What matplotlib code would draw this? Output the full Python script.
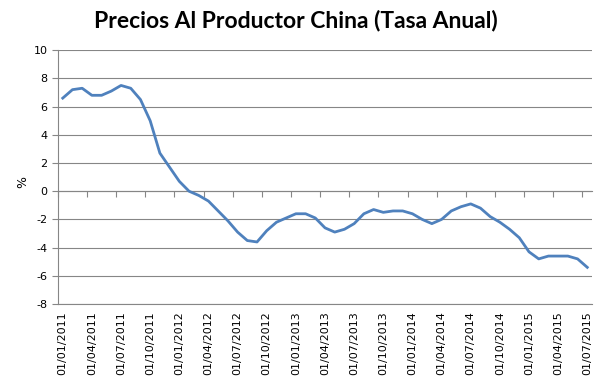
import numpy as np
import matplotlib.pyplot as plt
from matplotlib.ticker import FixedLocator

plt.rcParams['axes.unicode_minus'] = False

# Precios al productor China, tasa anual (%), mensual 01/2011 - 07/2015
values = [
    6.6, 7.2, 7.3, 6.8, 6.8, 7.1, 7.5, 7.3, 6.5, 5.0, 2.7, 1.7,
    0.7, 0.0, -0.3, -0.7, -1.4, -2.1, -2.9, -3.5, -3.6, -2.8, -2.2, -1.9,
    -1.6, -1.6, -1.9, -2.6, -2.9, -2.7, -2.3, -1.6, -1.3, -1.5, -1.4, -1.4,
    -1.6, -2.0, -2.3, -2.0, -1.4, -1.1, -0.9, -1.2, -1.8, -2.2, -2.7, -3.3,
    -4.3, -4.8, -4.6, -4.6, -4.6, -4.8, -5.4,
]
dates = [f"01/{m:02d}/{y}" for y in range(2011, 2016) for m in range(1, 13)][:len(values)]
tick_step = 3

grey = '#868686'

fig = plt.figure(figsize=(6.03, 3.86), dpi=100)
ax = fig.add_axes([0.096, 0.2124, 0.886, 0.6576])

x = np.arange(len(values))
ax.plot(x, values, color='#4F81BD', linewidth=2.0, solid_joinstyle='round')

ax.set_xlim(-0.5, len(values) - 0.5)
ax.set_ylim(-8, 10)
ax.set_yticks(np.arange(-8, 11, 2))
ax.yaxis.grid(True, color=grey, linewidth=0.8)
ax.set_axisbelow(True)

for side in ['top', 'right']:
    ax.spines[side].set_visible(False)
ax.spines['left'].set_color(grey)
ax.spines['bottom'].set_color(grey)
ax.spines['bottom'].set_linewidth(0.8)

ax.tick_params(axis='y', colors=grey, length=4, width=0.8, labelsize=8, labelcolor='black')
ax.set_xticks(x[::tick_step])
ax.set_xticklabels(dates[::tick_step], rotation=90, fontsize=8)
ax.tick_params(axis='x', length=0, pad=5)

# eje horizontal en cero con marcas entre categorias
sec = ax.secondary_xaxis(8 / 18)
sec.xaxis.set_major_locator(FixedLocator(np.arange(-0.5, len(values), tick_step)))
sec.tick_params(axis='x', length=4, width=0.8, color=grey, labelbottom=False)
sec.spines['bottom'].set_color(grey)
sec.spines['bottom'].set_linewidth(0.8)

ax.set_ylabel('%', fontsize=9)
ax.yaxis.set_label_coords(-0.054, 0.48)

fig.suptitle('Precios Al Productor China (Tasa Anual)', x=0.49, y=0.975,
             fontsize=16.5, fontweight='bold', family='Lato')

fig.savefig('out.png', dpi=100)
